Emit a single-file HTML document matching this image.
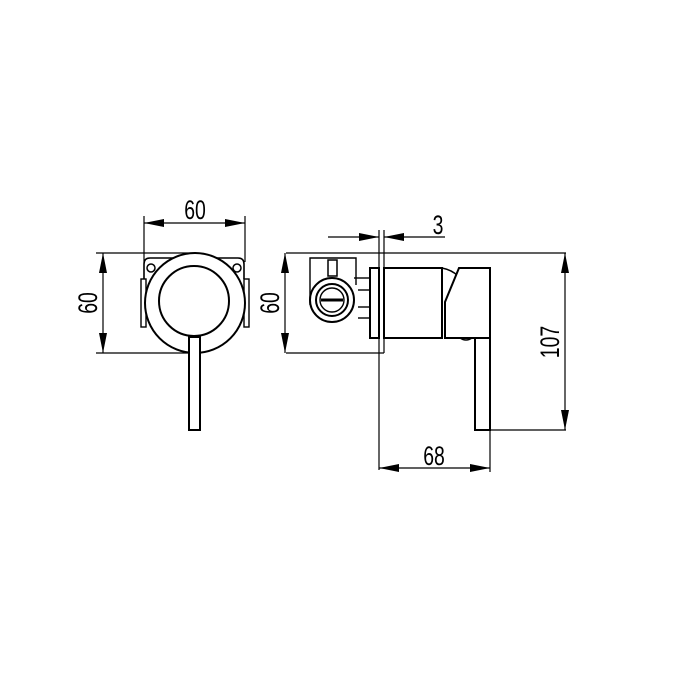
<!DOCTYPE html>
<html><head><meta charset="utf-8"><style>
html,body{margin:0;padding:0;background:#fff;}
svg{display:block}
text{font-family:"Liberation Sans",sans-serif;font-size:27px;fill:#000}
</style></head><body>
<svg width="700" height="700" viewBox="0 0 700 700" xmlns="http://www.w3.org/2000/svg">
<defs>
<marker id="a" viewBox="0 0 20 8" refX="20" refY="4" markerWidth="20" markerHeight="8" markerUnits="userSpaceOnUse" orient="auto-start-reverse"><path d="M0,0 L20,4 L0,8 Z" fill="#000"/></marker>
</defs>
<g stroke="#000" stroke-width="1.2" fill="none">
<!-- FRONT VIEW -->
<line x1="144" y1="223" x2="245" y2="223" marker-start="url(#a)" marker-end="url(#a)"/>
<line x1="144" y1="216" x2="144" y2="262"/>
<line x1="245" y1="216" x2="245" y2="262"/>
<line x1="103" y1="253" x2="103" y2="353" marker-start="url(#a)" marker-end="url(#a)"/>
<line x1="96" y1="253" x2="195" y2="253"/>
<line x1="96" y1="353" x2="190" y2="353"/>
<path d="M150,258 H238 Q244,258 244,264 V279 M150,258 Q144,258 144,264 V279" stroke-width="1.6"/>
<circle cx="151" cy="268" r="4" stroke-width="1.5"/>
<circle cx="237" cy="268" r="4" stroke-width="1.5"/>
<rect x="141" y="279" width="5" height="48" stroke-width="1.4"/>
<rect x="244" y="279" width="5" height="48" stroke-width="1.4"/>
<circle cx="195" cy="303" r="50" fill="#fff" stroke-width="2"/>
<circle cx="194" cy="301" r="35" stroke-width="2"/>
<rect x="189" y="337" width="11" height="93" fill="#fff" stroke-width="2"/>
<!-- SIDE VIEW -->
<line x1="328" y1="237" x2="379" y2="237" marker-end="url(#a)"/>
<line x1="384" y1="237" x2="445" y2="237" marker-start="url(#a)"/>
<line x1="379" y1="230" x2="379" y2="470"/>
<line x1="384" y1="230" x2="384" y2="353"/>
<line x1="286" y1="253" x2="566" y2="253"/>
<line x1="285" y1="253" x2="285" y2="353" marker-start="url(#a)" marker-end="url(#a)"/>
<line x1="286" y1="353" x2="384" y2="353"/>
<!-- bracket -->
<path d="M310,305 V258 H356 V285" stroke-width="1.4"/>
<rect x="328" y="260" width="9" height="16" stroke-width="1.5"/>
<line x1="354" y1="278" x2="370" y2="278" stroke-width="1.4"/>
<line x1="358" y1="290" x2="370" y2="290" stroke-width="1.4"/>
<line x1="358" y1="307" x2="370" y2="307" stroke-width="1.4"/>
<line x1="358" y1="318" x2="370" y2="318" stroke-width="1.4"/>
<circle cx="332" cy="300" r="22" fill="#fff" stroke-width="2"/>
<circle cx="332" cy="300" r="16" stroke-width="2"/>
<circle cx="332" cy="300" r="12" stroke-width="1.4"/>
<line x1="321" y1="300" x2="343" y2="300" stroke-width="3"/>
<!-- body -->
<rect x="370" y="268" width="9" height="70" stroke-width="2"/>
<rect x="384" y="268" width="58" height="70" stroke-width="2"/>
<path d="M442,268 Q452,270 458,276" stroke-width="1.5"/>
<path d="M459,268 H490 V338 H445 V302 Z" fill="#fff" stroke-width="2"/>
<rect x="475" y="338" width="15" height="92" stroke-width="2"/>
<path d="M460,338 Q466,342 472,338" stroke-width="1.4"/>
<line x1="490" y1="430" x2="566" y2="430"/>
<line x1="565" y1="253" x2="565" y2="430" marker-start="url(#a)" marker-end="url(#a)"/>
<line x1="490" y1="430" x2="490" y2="472"/>
<line x1="379" y1="468" x2="490" y2="468" marker-start="url(#a)" marker-end="url(#a)"/>
</g>
<text transform="translate(195,219) scale(0.72,1)" text-anchor="middle">60</text>
<text transform="translate(97,303) rotate(-90) scale(0.72,1)" text-anchor="middle">60</text>
<text transform="translate(279,303) rotate(-90) scale(0.72,1)" text-anchor="middle">60</text>
<text transform="translate(438,234) scale(0.72,1)" text-anchor="middle">3</text>
<text transform="translate(434,465) scale(0.72,1)" text-anchor="middle">68</text>
<text transform="translate(559,342) rotate(-90) scale(0.72,1)" text-anchor="middle">107</text>
</svg>
</body></html>
